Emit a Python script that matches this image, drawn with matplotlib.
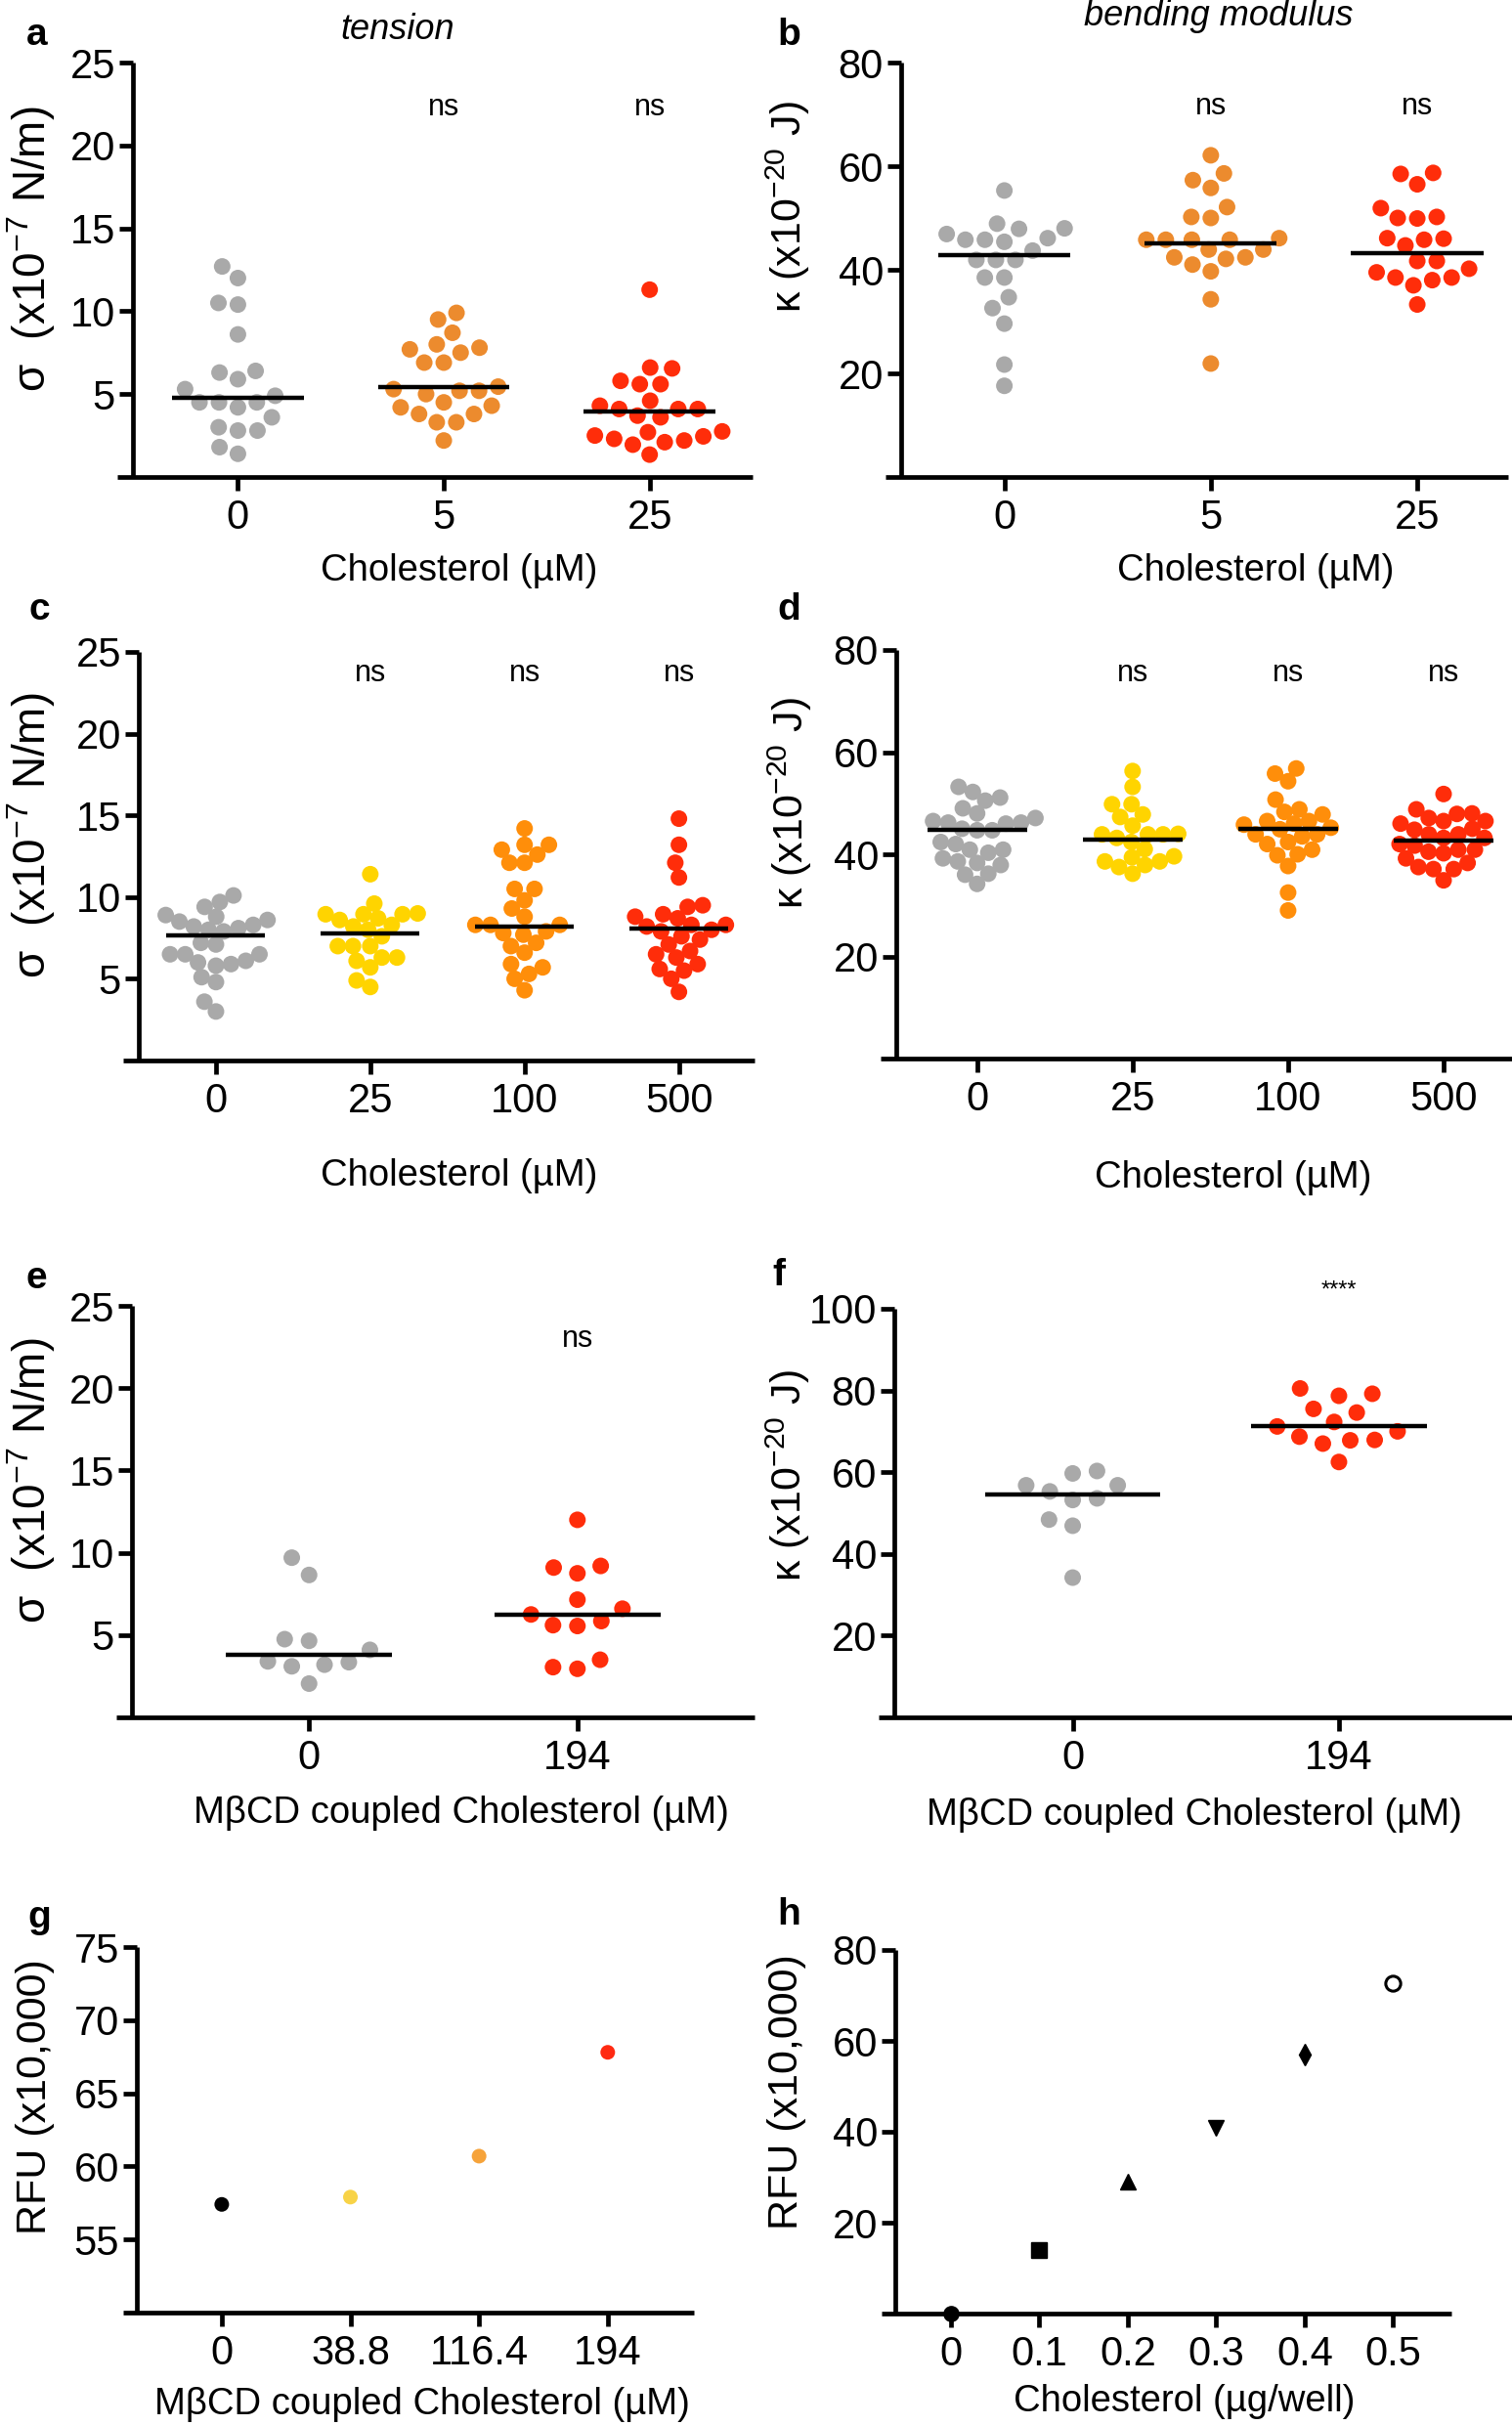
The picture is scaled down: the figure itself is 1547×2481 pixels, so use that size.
import numpy as np
import matplotlib
matplotlib.use('Agg')
import matplotlib.pyplot as plt
from matplotlib.lines import Line2D

# ---------------- data ----------------
a_cats = ['0', '5', '25']
a_0 = [12.7, 12.0, 10.5, 10.4, 8.6, 6.4, 6.3, 5.9, 5.3, 4.9, 4.5, 4.5, 4.5, 4.2, 3.6, 2.8, 3.0, 2.8, 1.8, 1.4]
a_5 = [9.9, 9.5, 8.7, 8.0, 7.7, 7.8, 7.5, 6.9, 6.9, 5.2, 5.3, 5.45, 5.0, 5.2, 4.5, 4.2, 3.8, 4.3, 3.8, 3.3, 3.3, 2.2]
a_25 = [11.3, 6.6, 6.55, 5.8, 5.6, 5.6, 4.6, 4.3, 4.1, 3.7, 3.6, 4.1, 4.1, 2.7, 2.5, 2.3, 2.1, 1.95, 2.2, 2.45, 2.75, 1.35]
a_med = [4.8, 5.45, 3.95]

b_cats = ['0', '5', '25']
b_0 = [55.3, 48.0, 48.9, 47.9, 46.9, 46.1, 45.4, 45.8, 45.8, 43.7, 41.9, 41.9, 41.9, 38.5, 38.5, 34.7, 32.6, 29.6, 21.7, 17.6]
b_5 = [62.1, 57.3, 58.6, 55.8, 52.1, 50.0, 50.2, 45.8, 45.8, 45.8, 45.8, 46.1, 43.9, 43.9, 42.4, 42.1, 41.0, 42.4, 39.7, 34.3, 21.9]
b_25 = [58.5, 58.7, 56.5, 51.9, 50.0, 49.9, 50.2, 46.0, 44.7, 45.8, 46.1, 41.7, 40.2, 38.5, 38.5, 38.0, 37.0, 39.5, 41.7, 33.3]
b_med = [42.8, 45.0, 43.2]

c_cats = ['0', '25', '100', '500']
c_0 = [10.1, 9.7, 9.4, 8.8, 8.6, 8.5, 8.3, 8.0, 8.1, 8.2, 7.1, 7.2, 6.5, 6.5, 6.5, 6.1, 6.0, 5.9, 5.8, 5.1, 4.8, 3.6, 3.0, 8.9, 7.9]
c_25 = [11.4, 9.6, 9.0, 8.95, 8.7, 8.95, 8.95, 8.2, 8.0, 8.3, 7.6, 7.0, 7.0, 7.0, 6.3, 6.1, 6.3, 5.7, 4.5, 4.9, 8.6]
c_100 = [14.2, 13.2, 13.2, 12.9, 12.6, 12.1, 12.1, 10.5, 10.5, 9.8, 9.3, 8.8, 8.3, 8.3, 8.3, 7.9, 7.7, 7.8, 7.2, 7.0, 6.6, 5.9, 5.7, 5.3, 5.0, 4.3]
c_500 = [14.8, 13.2, 12.1, 11.2, 9.4, 9.5, 8.95, 8.8, 8.7, 8.3, 8.0, 7.9, 8.2, 8.3, 7.4, 7.6, 6.7, 7.1, 6.3, 6.5, 5.9, 5.5, 5.6, 5.0, 4.2]
c_med = [7.65, 7.8, 8.2, 8.1]

d_cats = ['0', '25', '100', '500']
d_0 = [53.2, 52.2, 51.1, 50.5, 49.0, 48.0, 47.1, 44.7, 46.2, 46.2, 46.0, 46.5, 44.7, 42.0, 40.9, 40.3, 40.9, 42.4, 39.2, 38.3, 38.6, 37.9, 36.2, 36.0, 34.2, 45.0]
d_25 = [56.3, 53.2, 49.8, 49.8, 47.3, 47.8, 45.6, 43.9, 43.9, 43.9, 43.2, 42.4, 41.0, 39.4, 38.6, 39.6, 37.5, 37.9, 38.6, 36.2, 44.0]
d_100 = [56.8, 55.8, 54.3, 50.7, 47.8, 48.3, 48.8, 46.5, 46.5, 45.8, 46.0, 44.9, 43.9, 43.5, 43.9, 42.4, 42.0, 40.9, 40.0, 39.8, 37.7, 32.5, 29.0, 45.2]
d_500 = [51.8, 48.8, 47.9, 48.0, 47.1, 46.5, 46.0, 46.5, 44.8, 45.0, 43.9, 43.9, 43.2, 43.2, 40.2, 40.9, 40.5, 41.7, 40.9, 39.2, 38.3, 37.5, 37.1, 37.1, 34.9, 42.0]
d_med = [44.8, 42.9, 44.9, 42.6]

e_cats = ['0', '194']
e_0 = [9.7, 8.65, 4.65, 4.75, 4.1, 3.4, 3.2, 3.1, 3.35, 2.05]
e_194 = [12.0, 9.1, 9.2, 8.75, 7.15, 6.25, 6.6, 5.6, 5.55, 5.85, 3.5, 2.95, 3.05]
e_med = [3.8, 6.25]

f_cats = ['0', '194']
f_0 = [60.3, 59.7, 56.8, 56.8, 55.3, 53.2, 53.6, 48.4, 46.9, 34.2]
f_194 = [80.5, 79.2, 78.7, 75.5, 74.6, 72.3, 71.2, 70.0, 68.7, 67.8, 67.0, 67.9, 62.5]
f_med = [54.5, 71.4]

g_cats = ['0', '38.8', '116.4', '194']
g_vals = [57.4, 57.9, 60.7, 67.8]

h_x = [0, 0.1, 0.2, 0.3, 0.4, 0.5]
h_y = [0, 13.9, 29.0, 40.9, 57.0, 72.6]
h_ticklabels = ['0', '0.1', '0.2', '0.3', '0.4', '0.5']

# ---------------- style ----------------
GRAY = '#A9A9A9'
ORANGE_A = '#EC8B2E'
RED = '#FF2D0A'
YELLOW = '#FFD400'
ORANGE_C = '#FF8E0A'
G_COLORS = ['#000000', '#F8D347', '#F6A33A', '#FF2A12']

plt.rcParams['font.family'] = ['Liberation Sans', 'DejaVu Sans']
plt.rcParams['mathtext.fontset'] = 'custom'
plt.rcParams['mathtext.rm'] = 'Liberation Sans'
plt.rcParams['mathtext.it'] = 'Liberation Sans:italic'
plt.rcParams['mathtext.bf'] = 'Liberation Sans:bold'

W, H, DPI = 1547, 2481, 100
FS = 27.5      # axis labels
TFS = 30       # tick labels
LW = 3.4
fig = plt.figure(figsize=(W / DPI, H / DPI), dpi=DPI)


def add_axes(left, top, right, bottom):
    return fig.add_axes([left / W, 1 - bottom / H, (right - left) / W, (bottom - top) / H])


def style(ax, xlim, ylim, yticks, xticks, xticklabels):
    ax.set_xlim(*xlim)
    ax.set_ylim(*ylim)
    ax.set_yticks(yticks)
    ax.set_xticks(xticks)
    ax.set_xticklabels(xticklabels)
    for s in ['top', 'right', 'bottom']:
        ax.spines[s].set_visible(False)
    ax.spines['left'].set_linewidth(LW)
    ax.spines['left'].set_capstyle('butt')
    ax.add_line(Line2D([-0.025, 1.0], [0, 0], transform=ax.transAxes, color='k',
                       lw=LW, clip_on=False, solid_capstyle='butt'))
    ax.tick_params(axis='both', width=LW, length=10, labelsize=TFS, direction='out')
    ax.tick_params(axis='y', pad=3)
    ax.tick_params(axis='x', pad=6)
    ax.patch.set_alpha(0)


def swarm(vals, d_px, ppu_y):
    y = np.asarray(vals, float) * ppu_y
    order = np.argsort(y)
    px, py = [], []
    xs = np.zeros(len(y))
    for i in order:
        cands = [0.0]
        for xj, yj in zip(px, py):
            dy = y[i] - yj
            if abs(dy) < d_px:
                dx = np.sqrt(d_px ** 2 - dy ** 2)
                cands += [xj - dx, xj + dx]
        cands = sorted(cands, key=abs)
        chosen = 0.0
        for c in cands:
            if all((c - xj) ** 2 + (y[i] - yj) ** 2 >= d_px ** 2 - 1e-6 for xj, yj in zip(px, py)):
                chosen = c
                break
        xs[i] = chosen
        px.append(chosen)
        py.append(y[i])
    return xs


def dotplot(ax, groups, colors, meds, box, ms=17, d_px=20.0, half=0.32):
    left, top, right, bottom = box
    x0, x1 = ax.get_xlim()
    y0, y1 = ax.get_ylim()
    ppu_x = (right - left) / (x1 - x0)
    ppu_y = (bottom - top) / (y1 - y0)
    for i, (vals, col) in enumerate(zip(groups, colors)):
        off = swarm(vals, d_px, ppu_y) / ppu_x
        ax.scatter(i + off, vals, s=(ms * 72 / DPI) ** 2, color=col, edgecolors='none',
                   zorder=2, clip_on=False)
        ax.hlines(meds[i], i - half, i + half, color='k', lw=3.2, zorder=3)


def ylab(ax, text, x, y, fs=31):
    ax.set_ylabel(text, fontsize=fs)
    ax.yaxis.label.set(ha='center', va='center', rotation_mode='anchor')
    ax.yaxis.set_label_coords(x / W, 1 - y / H, transform=fig.transFigure)


def xlab(ax, text, x, y):
    ax.set_xlabel(text, fontsize=FS)
    ax.xaxis.label.set(ha='center', va='center')
    ax.xaxis.set_label_coords(x / W, 1 - y / H, transform=fig.transFigure)


def letter(t, x, y):
    fig.text(x / W, 1 - y / H, t, fontsize=28, fontweight='bold', ha='center', va='center')


SIG = r'σ  (x10$^{\mathregular{-7}}$ N/m)'
KAP = r'κ (x10$^{\mathregular{-20}}$ J)'
SFS = 33

# ---------------- panel a ----------------
box = (136, 64, 770, 488)
ax = add_axes(*box)
style(ax, (-0.51, 2.5), (0, 25), [5, 10, 15, 20, 25], range(3), a_cats)
dotplot(ax, [a_0, a_5, a_25], [GRAY, ORANGE_A, RED], a_med, box)
for i in (1, 2):
    ax.text(i, 22.3, 'ns', ha='center', va='center', fontsize=22)
ylab(ax, SIG, 32, 255, SFS)
xlab(ax, 'Cholesterol (µM)', 470, 584)
fig.text(407 / W, 1 - 30 / H, 'tension', style='italic', fontsize=26, ha='center', va='center')
letter('a', 38, 36)

# ---------------- panel b ----------------
box = (922, 64, 1543, 488)
ax = add_axes(*box)
style(ax, (-0.5, 2.44), (0, 80), [20, 40, 60, 80], range(3), b_cats)
dotplot(ax, [b_0, b_5, b_25], [GRAY, ORANGE_A, RED], b_med, box)
for i in (1, 2):
    ax.text(i, 71.5, 'ns', ha='center', va='center', fontsize=22)
ylab(ax, KAP, 806, 212)
xlab(ax, 'Cholesterol (µM)', 1285, 584)
fig.text(1247 / W, 1 - 17 / H, 'bending modulus', style='italic', fontsize=26, ha='center', va='center')
letter('b', 807, 36)

# ---------------- panel c ----------------
box = (142, 667, 772, 1085)
ax = add_axes(*box)
style(ax, (-0.5, 3.49), (0, 25), [5, 10, 15, 20, 25], range(4), c_cats)
dotplot(ax, [c_0, c_25, c_100, c_500], [GRAY, YELLOW, ORANGE_C, RED], c_med, box, d_px=15.5)
for i in (1, 2, 3):
    ax.text(i, 23.7, 'ns', ha='center', va='center', fontsize=22)
ylab(ax, SIG, 32, 855, SFS)
xlab(ax, 'Cholesterol (µM)', 470, 1203)
letter('c', 40, 624)

# ---------------- panel d ----------------
box = (917, 665, 1547, 1083)
ax = add_axes(*box)
style(ax, (-0.52, 3.44), (0, 80), [20, 40, 60, 80], range(4), d_cats)
dotplot(ax, [d_0, d_25, d_100, d_500], [GRAY, YELLOW, ORANGE_C, RED], d_med, box, d_px=15.5)
for i in (1, 2, 3):
    ax.text(i, 75.5, 'ns', ha='center', va='center', fontsize=22)
ylab(ax, KAP, 808, 822)
xlab(ax, 'Cholesterol (µM)', 1262, 1205)
letter('d', 807, 624)

# ---------------- panel e ----------------
box = (135, 1336, 772, 1757)
ax = add_axes(*box)
style(ax, (-0.66, 1.66), (0, 25), [5, 10, 15, 20, 25], range(2), e_cats)
dotplot(ax, [e_0, e_194], [GRAY, RED], e_med, box, d_px=25, half=0.31)
ax.text(1, 23.0, 'ns', ha='center', va='center', fontsize=22)
ylab(ax, SIG, 32, 1515, SFS)
xlab(ax, 'MβCD coupled Cholesterol (µM)', 472, 1855)
letter('e', 37, 1308)

# ---------------- panel f ----------------
box = (915, 1339, 1547, 1757)
ax = add_axes(*box)
style(ax, (-0.67, 1.65), (0, 100), [20, 40, 60, 80, 100], range(2), f_cats)
dotplot(ax, [f_0, f_194], [GRAY, RED], f_med, box, d_px=25, half=0.33)
ax.text(1, 104.5, '****', ha='center', va='center', fontsize=17)
ylab(ax, KAP, 806, 1510)
xlab(ax, 'MβCD coupled Cholesterol (µM)', 1222, 1857)
letter('f', 797, 1305)

# ---------------- panel g ----------------
box = (140, 1992, 710, 2366)
ax = add_axes(*box)
style(ax, (-0.66, 3.67), (50, 75), [55, 60, 65, 70, 75], range(4), g_cats)
ax.scatter(range(4), g_vals, s=(15 * 72 / DPI) ** 2, c=G_COLORS, edgecolors='none', zorder=3)
ylab(ax, 'RFU (x10,000)', 36, 2145)
xlab(ax, 'MβCD coupled Cholesterol (µM)', 432, 2460)
letter('g', 40, 1962)

# ---------------- panel h ----------------
box = (916, 1995, 1485, 2367)
ax = add_axes(*box)
style(ax, (-0.063, 0.566), (0, 80), [20, 40, 60, 80], h_x, h_ticklabels)
h_markers = ['o', 's', '^', 'v', 'd', 'o']
h_fill = ['k', 'k', 'k', 'k', 'k', 'none']
for xv, yv, m, fc in zip(h_x, h_y, h_markers, h_fill):
    ax.plot([xv], [yv], marker=m, markersize=11, markerfacecolor=fc, markeredgecolor='k',
            markeredgewidth=2.2 if fc == 'none' else 1, linestyle='none', clip_on=False, zorder=3)
ylab(ax, 'RFU (x10,000)', 805, 2140)
xlab(ax, 'Cholesterol (µg/well)', 1212, 2457)
letter('h', 807, 1959)

fig.savefig('out.png', dpi=DPI)
